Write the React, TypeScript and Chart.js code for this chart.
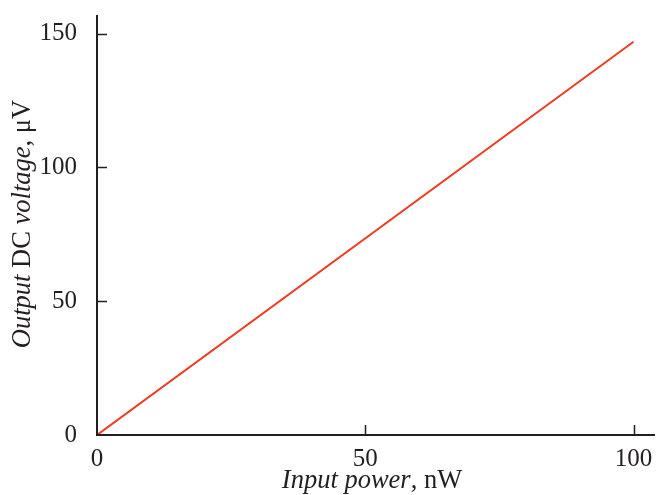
import React, { useEffect, useRef } from "react";
import { Chart, registerables } from "chart.js";

Chart.register(...registerables);

const inputPower = [0, 100];
const outputVoltage = [0, 147];
const xTicks = [0, 50, 100];
const yTicks = [0, 50, 100, 150];
const xTitleParts: [string, boolean][] = [["Input power", true], [", nW", false]];
const yTitleParts: [string, boolean][] = [
  ["Output", true],
  [" DC ", false],
  ["voltage", true],
  [", μV", false],
];

const FONT = "'Liberation Serif', 'DejaVu Serif', serif";
const AXIS_COLOR = "#231f20";

function drawParts(ctx: CanvasRenderingContext2D, parts: [string, boolean][], size: number) {
  const widths = parts.map(([t, it]) => {
    ctx.font = `${it ? "italic " : ""}${size}px ${FONT}`;
    return ctx.measureText(t).width;
  });
  const total = widths.reduce((a, b) => a + b, 0);
  let x = -total / 2;
  parts.forEach(([t, it], i) => {
    ctx.font = `${it ? "italic " : ""}${size}px ${FONT}`;
    ctx.fillText(t, x, 0);
    x += widths[i];
  });
}

const axesPlugin = {
  id: "customAxes",
  afterDraw(chart: any) {
    const ctx: CanvasRenderingContext2D = chart.ctx;
    const { left, right, top, bottom } = chart.chartArea;
    const xs = chart.scales.x;
    const ys = chart.scales.y;
    ctx.save();
    ctx.strokeStyle = AXIS_COLOR;
    ctx.lineWidth = 2;
    ctx.beginPath();
    ctx.moveTo(left, top);
    ctx.lineTo(left, bottom);
    ctx.lineTo(right, bottom);
    ctx.stroke();
    ctx.lineWidth = 1.5;
    ctx.beginPath();
    xTicks.forEach((v) => {
      if (v === 0) return;
      const px = Math.round(xs.getPixelForValue(v)) + 0.5;
      ctx.moveTo(px, bottom);
      ctx.lineTo(px, bottom - 10);
    });
    yTicks.forEach((v) => {
      if (v === 0) return;
      const py = Math.round(ys.getPixelForValue(v)) + 0.5;
      ctx.moveTo(left, py);
      ctx.lineTo(left + 10, py);
    });
    ctx.stroke();

    ctx.fillStyle = AXIS_COLOR;
    ctx.textBaseline = "alphabetic";
    ctx.textAlign = "left";
    ctx.save();
    ctx.translate(372, 488);
    drawParts(ctx, xTitleParts, 26.5);
    ctx.restore();
    ctx.save();
    ctx.translate(30, 224);
    ctx.rotate(-Math.PI / 2);
    drawParts(ctx, yTitleParts, 26.5);
    ctx.restore();
    ctx.restore();
  },
};

export default function App() {
  const ref = useRef<HTMLCanvasElement>(null);
  useEffect(() => {
    document.body.style.margin = "0";
    const chart = new Chart(ref.current!, {
      type: "line",
      data: {
        datasets: [
          {
            data: inputPower.map((x, i) => ({ x, y: outputVoltage[i] })),
            borderColor: "#ee3b24",
            borderWidth: 2,
            pointRadius: 0,
            fill: false,
          },
        ],
      },
      options: {
        animation: false,
        responsive: false,
        layout: { padding: { top: 15, right: 3, left: 0, bottom: 0 } },
        plugins: { legend: { display: false }, tooltip: { enabled: false } },
        scales: {
          x: {
            type: "linear",
            min: 0,
            max: 104,
            afterBuildTicks: (s: any) => {
              s.ticks = xTicks.map((value) => ({ value }));
            },
            afterFit: (s: any) => {
              s.height = 60;
              s.paddingLeft = 0;
              s.paddingRight = 0;
            },
            grid: { display: false },
            border: { display: false },
            ticks: {
              padding: 1,
              color: AXIS_COLOR,
              font: { family: FONT, size: 25 },
              maxRotation: 0,
            },
          },
          y: {
            type: "linear",
            min: 0,
            max: 157,
            afterBuildTicks: (s: any) => {
              s.ticks = yTicks.map((value) => ({ value }));
            },
            afterFit: (s: any) => {
              s.width = 97;
              s.paddingTop = 0;
              s.paddingBottom = 0;
            },
            grid: { display: false },
            border: { display: false },
            ticks: {
              padding: 12,
              color: AXIS_COLOR,
              font: { family: FONT, size: 25 },
            },
          },
        },
      },
      plugins: [axesPlugin],
    });
    return () => chart.destroy();
  }, []);
  return <canvas ref={ref} width={658} height={495} style={{ display: "block" }} />;
}
